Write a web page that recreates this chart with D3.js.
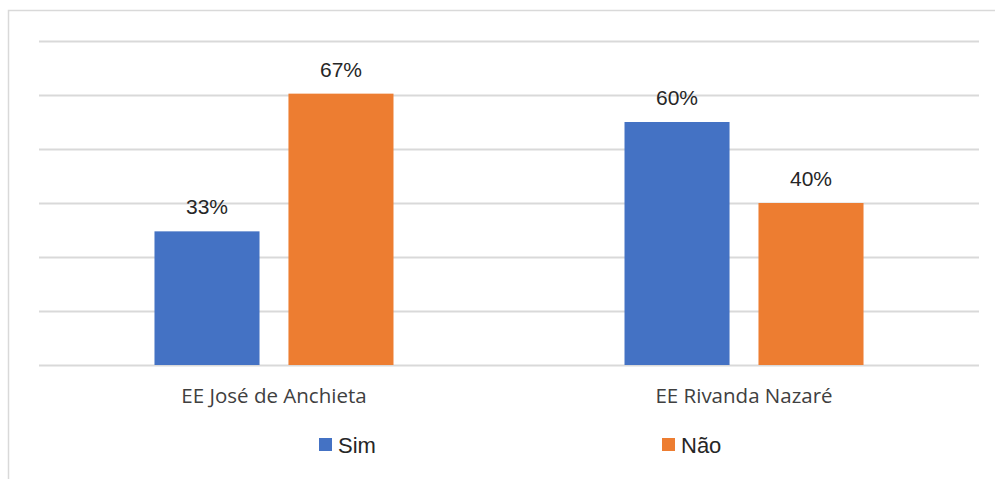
<!DOCTYPE html>
<html>
<head>
<meta charset="utf-8">
<script src="https://cdn.jsdelivr.net/npm/d3@7"></script>
<style>
    html, body { margin: 0; padding: 0; background: #ffffff; }
</style>
</head>
<body>
<div id="chartContainer"></div>
<script>
(function () {
    'use strict';

    var categories = ['EE José de Anchieta', 'EE Rivanda Nazaré'],
        seriesNames = ['Sim', 'Não'],
        simValues = [33, 60],
        naoValues = [67, 40],
        gridTicks = [0, 13.33, 26.67, 40, 53.33, 66.67, 80],

        colors = { 'Sim': '#4472C4', 'Não': '#ED7D31' },

        width = 995,
        height = 479,
        plot = { left: 39, right: 979, top: 41, bottom: 365 },

        svg = d3.select('#chartContainer')
            .append('svg')
            .attr('width', width)
            .attr('height', height),

        rows = categories.map(function (c, i) {
            return { category: c, values: [
                { series: 'Sim', value: simValues[i] },
                { series: 'Não', value: naoValues[i] }
            ] };
        }),

        x0 = d3.scaleBand()
            .domain(categories)
            .range([plot.left, plot.right])
            .paddingInner(0.4915)
            .paddingOuter(0.2457),

        x1 = d3.scaleBand()
            .domain(seriesNames)
            .range([0, x0.bandwidth()])
            .paddingInner(0.216),

        y = d3.scaleLinear()
            .domain([0, 80])
            .range([plot.bottom, plot.top]);

    // chart area border
    svg.append('rect')
        .attr('x', 8.5)
        .attr('y', 10.5)
        .attr('width', 1000)
        .attr('height', 500)
        .style('fill', 'none')
        .style('stroke', '#d9d9d9')
        .style('stroke-width', '1.5px');

    // gridlines
    svg.append('g')
        .attr('transform', 'translate(' + plot.left + ',0)')
        .call(d3.axisLeft(y)
            .tickValues(gridTicks)
            .tickSize(-(plot.right - plot.left))
            .tickFormat(''))
        .call(function (g) {
            g.select('.domain').remove();
            g.selectAll('.tick line')
                .style('stroke', '#d9d9d9')
                .style('stroke-width', '2px');
        });

    var groups = svg.selectAll('.group')
        .data(rows)
        .enter()
        .append('g')
        .attr('class', 'group')
        .attr('transform', function (d) { return 'translate(' + x0(d.category) + ',0)'; });

    groups.selectAll('rect')
        .data(function (d) { return d.values; })
        .enter()
        .append('rect')
        .attr('x', function (d) { return x1(d.series); })
        .attr('y', function (d) { return y(d.value); })
        .attr('width', x1.bandwidth())
        .attr('height', function (d) { return y(0) - y(d.value); })
        .style('fill', function (d) { return colors[d.series]; });

    groups.selectAll('text.value')
        .data(function (d) { return d.values; })
        .enter()
        .append('text')
        .attr('class', 'value')
        .attr('x', function (d) { return x1(d.series) + x1.bandwidth() / 2; })
        .attr('y', function (d) { return y(d.value) - 17; })
        .attr('text-anchor', 'middle')
        .style('font-family', '"Liberation Sans", Arial, sans-serif')
        .style('font-size', '21px')
        .style('fill', '#262626')
        .text(function (d) { return d.value + '%'; });

    // category labels
    svg.append('g')
        .attr('transform', 'translate(0,' + plot.bottom + ')')
        .call(d3.axisBottom(x0).tickSize(0).tickPadding(0))
        .call(function (g) {
            g.select('.domain').remove();
            g.selectAll('.tick text')
                .attr('dy', 0)
                .attr('y', 38)
                .style('font-family', '"Open Sans", sans-serif')
                .style('font-size', '20.5px')
                .style('fill', '#404040');
        });

    // legend
    var legendX = d3.scalePoint()
        .domain(seriesNames)
        .range([319, 662]);

    var legend = svg.selectAll('.legend')
        .data(seriesNames)
        .enter()
        .append('g')
        .attr('class', 'legend')
        .attr('transform', function (d) { return 'translate(' + legendX(d) + ',438)'; });

    legend.append('rect')
        .attr('width', 13)
        .attr('height', 13)
        .style('fill', function (d) { return colors[d]; });

    legend.append('text')
        .attr('x', 19)
        .attr('y', 15)
        .style('font-family', '"Liberation Sans", Arial, sans-serif')
        .style('font-size', '22px')
        .style('fill', '#262626')
        .text(function (d) { return d; });

}());
</script>
</body>
</html>
